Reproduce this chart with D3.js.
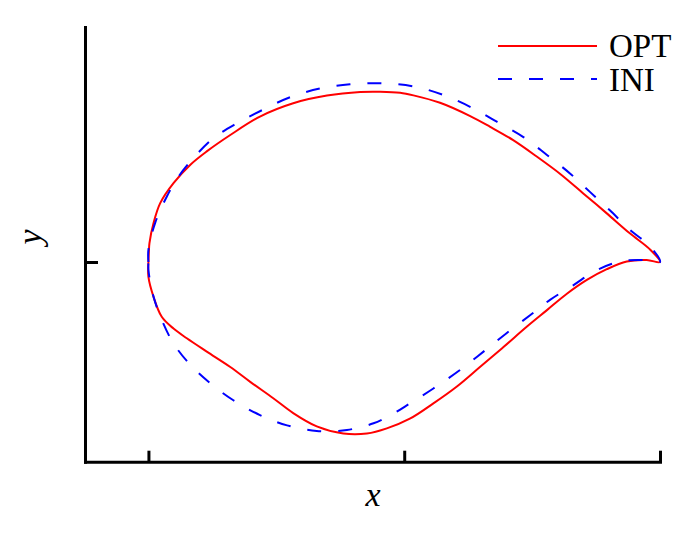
<!DOCTYPE html>
<html>
<head>
<meta charset="utf-8">
<script src="https://cdn.jsdelivr.net/npm/d3@7"></script>
<style>
  body { margin: 0; background: #fff; }
  svg { display: block; font-family: "Liberation Serif", "Times New Roman", serif; }
</style>
</head>
<body>
<div id="chart"></div>
<script>
// airfoil coordinates, chord from 0 (leading edge) to 1 (trailing edge)
var optUpper = [[0,0],[0.001,0.023],[0.002,0.037],[0.010,0.076],[0.023,0.115],[0.049,0.154],
  [0.082,0.190],[0.114,0.216],[0.160,0.248],[0.218,0.284],[0.283,0.310],[0.349,0.325],
  [0.414,0.332],[0.453,0.3325],[0.492,0.3305],[0.518,0.3255],[0.570,0.311],[0.629,0.285],
  [0.668,0.264],[0.713,0.238],[0.759,0.206],[0.805,0.172],[0.850,0.134],[0.896,0.095],
  [0.941,0.056],[0.981,0.024],[1,0]];
var optLower = [[0,0],[0,-0.029],[0.010,-0.068],[0.026,-0.107],[0.049,-0.130],[0.075,-0.149],
  [0.114,-0.175],[0.160,-0.205],[0.199,-0.234],[0.244,-0.266],[0.283,-0.295],[0.329,-0.321],
  [0.381,-0.335],[0.427,-0.335],[0.466,-0.325],[0.511,-0.306],[0.557,-0.276],[0.603,-0.243],
  [0.648,-0.205],[0.694,-0.166],[0.740,-0.126],[0.779,-0.094],[0.818,-0.062],[0.857,-0.035],
  [0.896,-0.014],[0.935,0.001],[0.974,0.004],[1,0]];
var iniUpper = [[0,0],[0,0.024],[0.013,0.076],[0.036,0.128],[0.059,0.167],[0.088,0.203],
  [0.127,0.242],[0.173,0.271],[0.225,0.298],[0.277,0.322],[0.336,0.339],[0.394,0.347],
  [0.453,0.349],[0.518,0.343],[0.577,0.326],[0.635,0.300],[0.681,0.274],[0.733,0.244],
  [0.779,0.209],[0.824,0.173],[0.863,0.137],[0.902,0.101],[0.941,0.063],[0.981,0.030],[1,0]];
var iniLower = [[0,0],[0,-0.016],[0.010,-0.068],[0.026,-0.113],[0.049,-0.159],[0.082,-0.201],
  [0.121,-0.237],[0.166,-0.270],[0.218,-0.299],[0.271,-0.319],[0.329,-0.330],[0.388,-0.328],
  [0.440,-0.315],[0.479,-0.296],[0.505,-0.280],[0.557,-0.247],[0.609,-0.211],[0.655,-0.175],
  [0.700,-0.139],[0.746,-0.104],[0.785,-0.074],[0.831,-0.045],[0.876,-0.016],[0.922,0.001],
  [0.967,0.004],[1,0]];

var xTicks = [0, 0.5, 1];
var yTicks = [0];
var legendNames = ["OPT", "INI"];

var width = 700, height = 539;

var svg = d3.select("#chart")
  .append("svg")
  .attr("width", width)
  .attr("height", height);

var x = d3.scaleLinear().domain([-0.124, 1]).range([85, 660]);
var y = d3.scaleLinear().domain([-0.39, 0.459]).range([461.7, 27]);

// axes: ticks point inward, no labels
svg.append("g")
  .attr("transform", "translate(0," + y(-0.39) + ")")
  .call(d3.axisBottom(x).tickValues(xTicks).tickFormat("").tickSizeInner(-11).tickSizeOuter(0));
svg.append("g")
  .attr("transform", "translate(" + x(-0.124) + ",0)")
  .call(d3.axisLeft(y).tickValues(yTicks).tickFormat("").tickSizeInner(-13).tickSizeOuter(0));

svg.selectAll(".domain")
  .attr("stroke", "#000")
  .attr("stroke-width", 3)
  .attr("stroke-linecap", "square");
svg.selectAll(".tick line")
  .attr("stroke", "#000")
  .attr("stroke-width", 3);

// closed outline: upper surface LE->TE, then lower surface TE->LE
function outline(upper, lower) {
  return upper.concat(lower.slice().reverse().slice(1));
}

var line = d3.line()
  .x(function(d) { return x(d[0]); })
  .y(function(d) { return y(d[1]); })
  .curve(d3.curveCatmullRom.alpha(0.5));

svg.append("path")
  .attr("d", line(outline(optUpper, optLower)))
  .attr("fill", "none")
  .attr("stroke", "#ff0000")
  .attr("stroke-width", 2);

svg.append("path")
  .attr("d", line(outline(iniUpper, iniLower)))
  .attr("fill", "none")
  .attr("stroke", "#0000ff")
  .attr("stroke-width", 2)
  .attr("stroke-dasharray", "14,17");

// legend
var legend = svg.append("g");
legend.append("line")
  .attr("x1", 498).attr("x2", 597).attr("y1", 46).attr("y2", 46)
  .attr("stroke", "#ff0000").attr("stroke-width", 2);
legend.append("line")
  .attr("x1", 498).attr("x2", 597).attr("y1", 79).attr("y2", 79)
  .attr("stroke", "#0000ff").attr("stroke-width", 2)
  .attr("stroke-dasharray", "14,17");
legend.selectAll("text")
  .data(legendNames)
  .enter().append("text")
  .attr("x", 609)
  .attr("y", function(d, i) { return 57 + i * 34; })
  .attr("font-size", 33)
  .attr("fill", "#000")
  .text(function(d) { return d; });

// axis titles
svg.append("text")
  .attr("x", 373).attr("y", 506)
  .attr("text-anchor", "middle")
  .attr("font-size", 34)
  .attr("font-style", "italic")
  .attr("fill", "#000")
  .text("x");
svg.append("text")
  .attr("transform", "translate(41,237) rotate(-90)")
  .attr("text-anchor", "middle")
  .attr("font-size", 34)
  .attr("font-style", "italic")
  .attr("fill", "#000")
  .text("y");
</script>
</body>
</html>
